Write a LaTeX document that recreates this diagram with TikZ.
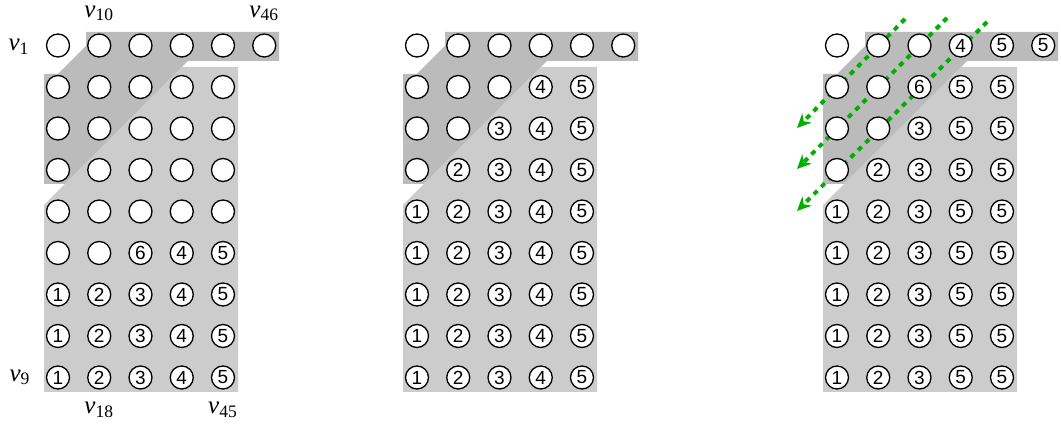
\documentclass[tikz,border=0pt]{standalone}
\usepackage{fontspec}
\setmainfont{Liberation Serif}
\newfontfamily\arialf{Liberation Sans}
\usetikzlibrary{calc,arrows.meta}
\definecolor{darkband}{HTML}{BBBBBB}
\definecolor{lightarea}{HTML}{CCCCCC}
\definecolor{arrowgreen}{RGB}{0,175,0}
\tikzset{
  vx/.style={circle,draw=black,line width=0.65pt,fill=white,minimum size=11.5pt,inner sep=0pt,
    font=\arialf\fontsize{9.5}{9.5}\selectfont},
  vlab/.style={inner sep=0pt,font=\fontsize{12.5}{12.5}\selectfont},
  sweep/.style={arrowgreen,line width=2pt,dash pattern=on 2.5pt off 2.7pt,
    -{Stealth[length=7pt,width=6.5pt]}},
}
\newcommand\gridrow[4]{% #1 panel, #2 x offset, #3 row, #4 labels
  \foreach \l [count=\c] in {#4} {
    \node[vx] (p#1-\c-#3) at ({#2+58+41.25*(\c-1)},{45.5+41.5*(#3-1)}) {\l};
  }}
\newcommand\shading{%
  \fill[lightarea] (44,392) -- (238,392) -- (238,67) -- (182,67) -- (44,205) -- cycle;
  \fill[darkband] (86,32) -- (279,32) -- (279,61) -- (188,61) -- (65,184) -- (44,184)
     -- (44,74) -- (58,74) -- (86,46) -- cycle;}
\begin{document}
\begin{tikzpicture}[x=0.5pt,y=-0.5pt]
\useasboundingbox (0,0) rectangle (1061,426);
% shaded regions
\shading
\begin{scope}[shift={(359,0)}]\shading\end{scope}
\begin{scope}[shift={(779,0)}]\shading\end{scope}
% sweep arrows (panel 3)
\coordinate (s1) at (905,19);  \coordinate (e1) at (797,128);
\coordinate (s2) at (947,18);  \coordinate (e2) at (797,169);
\coordinate (s3) at (987,22);  \coordinate (e3) at (797,211);
\draw[sweep] (s1) -- (e1);
\draw[sweep] (s2) -- (e2);
\draw[sweep] (s3) -- (e3);
% panel 1
\gridrow{1}{0}{1}{{},{},{},{},{},{}}
\gridrow{1}{0}{2}{{},{},{},{},{}}
\gridrow{1}{0}{3}{{},{},{},{},{}}
\gridrow{1}{0}{4}{{},{},{},{},{}}
\gridrow{1}{0}{5}{{},{},{},{},{}}
\gridrow{1}{0}{6}{{},{},6,4,5}
\gridrow{1}{0}{7}{1,2,3,4,5}
\gridrow{1}{0}{8}{1,2,3,4,5}
\gridrow{1}{0}{9}{1,2,3,4,5}
% panel 2
\gridrow{2}{359}{1}{{},{},{},{},{},{}}
\gridrow{2}{359}{2}{{},{},{},4,5}
\gridrow{2}{359}{3}{{},{},3,4,5}
\gridrow{2}{359}{4}{{},2,3,4,5}
\gridrow{2}{359}{5}{1,2,3,4,5}
\gridrow{2}{359}{6}{1,2,3,4,5}
\gridrow{2}{359}{7}{1,2,3,4,5}
\gridrow{2}{359}{8}{1,2,3,4,5}
\gridrow{2}{359}{9}{1,2,3,4,5}
% panel 3
\gridrow{3}{779}{1}{{},{},{},4,5,5}
\gridrow{3}{779}{2}{{},{},6,5,5}
\gridrow{3}{779}{3}{{},{},3,5,5}
\gridrow{3}{779}{4}{{},2,3,5,5}
\gridrow{3}{779}{5}{1,2,3,5,5}
\gridrow{3}{779}{6}{1,2,3,5,5}
\gridrow{3}{779}{7}{1,2,3,5,5}
\gridrow{3}{779}{8}{1,2,3,5,5}
\gridrow{3}{779}{9}{1,2,3,5,5}
% vertex labels (panel 1)
\node[vlab] (l1)  at ($(p1-1-1)+(-39,1)$)   {\textit{v}\textsubscript{1}};
\node[vlab] (l9)  at ($(p1-1-9)+(-38,0)$)   {\textit{v}\textsubscript{9}};
\node[vlab] (l10) at ($(p1-2-1)+(0,-32)$)   {\textit{v}\textsubscript{10}};
\node[vlab] (l46) at ($(p1-6-1)+(0,-32)$)   {\textit{v}\textsubscript{46}};
\node[vlab] (l18) at ($(p1-2-9)+(0,32.5)$)  {\textit{v}\textsubscript{18}};
\node[vlab] (l45) at ($(p1-5-9)+(0,32.5)$)  {\textit{v}\textsubscript{45}};
\end{tikzpicture}
\end{document}
